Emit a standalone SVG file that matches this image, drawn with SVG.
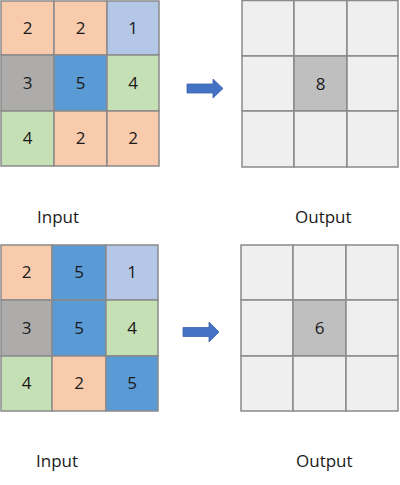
<svg xmlns="http://www.w3.org/2000/svg" width="400" height="485" viewBox="0 0 400 485">
<style>
.c{stroke:#8A8A8A;stroke-width:1.5}
.pe{fill:#F8CBAD}.lb{fill:#B4C7E7}.gr{fill:#AEABAB}.bl{fill:#5B9BD5}.gn{fill:#C5E0B4}.ot{fill:#EFEFEF}.oc{fill:#BFBFBF}
.n{font-family:"Open Sans","Liberation Sans",sans-serif;font-size:17px;fill:#1a1a1a;text-anchor:middle}
.l{font-family:"Open Sans","Liberation Sans",sans-serif;font-size:17px;fill:#1a1a1a}
.ar{fill:#4472C4;stroke:#3A63AC;stroke-width:0.8}
</style>
<rect width="400" height="485" fill="#fff"/>
<g id="input1">
<rect class="c pe" x="1" y="1" width="53" height="54"/><text class="n" x="27.5" y="34">2</text>
<rect class="c pe" x="54" y="1" width="53" height="54"/><text class="n" x="80.5" y="34">2</text>
<rect class="c lb" x="107" y="1" width="52" height="54"/><text class="n" x="133" y="34">1</text>
<rect class="c gr" x="1" y="55" width="53" height="56"/><text class="n" x="27.5" y="89">3</text>
<rect class="c bl" x="54" y="55" width="53" height="56"/><text class="n" x="80.5" y="89">5</text>
<rect class="c gn" x="107" y="55" width="52" height="56"/><text class="n" x="133" y="89">4</text>
<rect class="c gn" x="1" y="111" width="53" height="55"/><text class="n" x="27.5" y="144">4</text>
<rect class="c pe" x="54" y="111" width="53" height="55"/><text class="n" x="80.5" y="144">2</text>
<rect class="c pe" x="107" y="111" width="52" height="55"/><text class="n" x="133" y="144">2</text>
</g>
<g id="output1">
<rect class="c ot" x="242" y="0.5" width="52" height="55.5"/>
<rect class="c ot" x="294" y="0.5" width="53" height="55.5"/>
<rect class="c ot" x="347" y="0.5" width="51" height="55.5"/>
<rect class="c ot" x="242" y="56" width="52" height="55"/>
<rect class="c oc" x="294" y="56" width="53" height="55"/><text class="n" x="320.5" y="90">8</text>
<rect class="c ot" x="347" y="56" width="51" height="55"/>
<rect class="c ot" x="242" y="111" width="52" height="56"/>
<rect class="c ot" x="294" y="111" width="53" height="56"/>
<rect class="c ot" x="347" y="111" width="51" height="56"/>
</g>
<g id="input2">
<rect class="c pe" x="1" y="245" width="51" height="55"/><text class="n" x="26.5" y="278">2</text>
<rect class="c bl" x="52" y="245" width="54" height="55"/><text class="n" x="79" y="278">5</text>
<rect class="c lb" x="106" y="245" width="52" height="55"/><text class="n" x="132" y="278">1</text>
<rect class="c gr" x="1" y="300" width="51" height="56"/><text class="n" x="26.5" y="334">3</text>
<rect class="c bl" x="52" y="300" width="54" height="56"/><text class="n" x="79" y="334">5</text>
<rect class="c gn" x="106" y="300" width="52" height="56"/><text class="n" x="132" y="334">4</text>
<rect class="c gn" x="1" y="356" width="51" height="55"/><text class="n" x="26.5" y="389">4</text>
<rect class="c pe" x="52" y="356" width="54" height="55"/><text class="n" x="79" y="389">2</text>
<rect class="c bl" x="106" y="356" width="52" height="55"/><text class="n" x="132" y="389">5</text>
</g>
<g id="output2">
<rect class="c ot" x="241" y="245" width="52" height="55"/>
<rect class="c ot" x="293" y="245" width="53" height="55"/>
<rect class="c ot" x="346" y="245" width="52" height="55"/>
<rect class="c ot" x="241" y="300" width="52" height="56"/>
<rect class="c oc" x="293" y="300" width="53" height="56"/><text class="n" x="319.5" y="334">6</text>
<rect class="c ot" x="346" y="300" width="52" height="56"/>
<rect class="c ot" x="241" y="356" width="52" height="55"/>
<rect class="c ot" x="293" y="356" width="53" height="55"/>
<rect class="c ot" x="346" y="356" width="52" height="55"/>
</g>
<g id="labels">
<text class="l" x="37" y="223">Input</text>
<text class="l" x="295" y="223">Output</text>
<text class="l" x="36" y="467">Input</text>
<text class="l" x="296" y="467">Output</text>
</g>
<g id="connectors">
<polygon class="ar" points="187,84 213,84 213,79 223,88.5 213,98 213,93 187,93"/>
<polygon class="ar" points="183,327.5 209,327.5 209,322 219,332 209,342 209,336.5 183,336.5"/>
</g>
</svg>
